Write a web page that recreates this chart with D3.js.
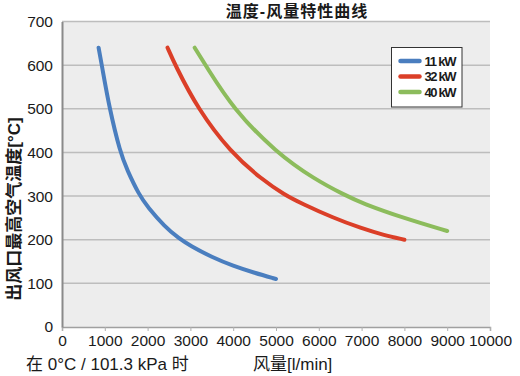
<!DOCTYPE html>
<html>
<head>
<meta charset="utf-8">
<script src="https://cdn.jsdelivr.net/npm/d3@7/dist/d3.min.js"></script>
<style>
  body { margin: 0; background: #fff; }
  text { font-family: "Liberation Sans", Arial, "Noto Sans CJK SC", sans-serif; fill: #1a1a1a; }
  .cjk { font-family: "Liberation Sans", "Noto Sans CJK SC", sans-serif; }
</style>
</head>
<body>
<div id="chart"></div>
<script>
//////////////////////////////// Data ////////////////////////////////
var seriesNames = ["11 kW", "32 kW", "40 kW"]
var seriesColors = ["#4a7ebf", "#db3f28", "#8cbc5c"]

// [airflow l/min, temperature °C]
var flow11 = [855, 930, 1110, 1360, 1520, 1800, 2000, 2400, 2730, 3000, 3500, 4000, 4500, 5000]
var temp11 = [640, 600, 500, 400, 360, 303, 275, 230, 203, 186, 160, 140, 124, 110]
var flow32 = [2466, 2645, 3170, 3940, 4670, 5200, 5600, 6340, 7000, 7500, 8000]
var temp32 = [640, 600, 500, 400, 338, 303, 283, 250, 226, 211, 200]
var flow40 = [3100, 3385, 4000, 5000, 5910, 6615, 7000, 8000, 9000]
var temp40 = [640, 595, 500, 400, 338, 302, 284, 249, 220]

var xTicks = [0, 1000, 2000, 3000, 4000, 5000, 6000, 7000, 8000, 9000, 10000]
var yTicks = [0, 100, 200, 300, 400, 500, 600, 700]

var titleText = "温度-风量特性曲线"
var yLabel = "出风口最高空气温度[°C]"
var xLabel = "风量[l/min]"
var noteText = "在 0°C / 101.3 kPa 时"

//////////////////////////////// Setup ////////////////////////////////
var totalWidth = 520, totalHeight = 376
var margin = { top: 21.5, right: 30, bottom: 49, left: 62 }
var width = 490 - margin.left
var height = 327 - margin.top

var svg = d3.select("#chart").append("svg")
  .attr("width", totalWidth)
  .attr("height", totalHeight)

var g = svg.append("g")
  .attr("transform", "translate(" + margin.left + "," + margin.top + ")")

var x = d3.scaleLinear().domain([0, 10000]).range([0, width])
var y = d3.scaleLinear().domain([0, 700]).range([height, 0])

// plot background
g.append("rect")
  .attr("width", width)
  .attr("height", height)
  .attr("fill", "#ededed")

// gridlines
g.selectAll(".grid").data(yTicks.filter(d => d > 0))
  .enter().append("line")
    .attr("class", "grid")
    .attr("x1", 0).attr("x2", width)
    .attr("y1", d => y(d)).attr("y2", d => y(d))
    .attr("stroke", "#bdbdbd")
    .attr("stroke-width", 1.5)

// axes
var xAxis = g.append("g")
  .attr("transform", "translate(0," + height + ")")
  .call(d3.axisBottom(x).tickValues(xTicks).tickSize(4).tickPadding(4).tickFormat(d3.format("d")))
xAxis.select(".domain").attr("stroke", "#a0a0a0").attr("stroke-width", 1.5)
xAxis.selectAll(".tick line").attr("stroke", "#b0b0b0")
xAxis.selectAll(".tick text").attr("font-size", 15.5).attr("fill", "#1a1a1a")
  .attr("font-family", "Liberation Sans, Arial, sans-serif")

var yAxis = g.append("g")
  .call(d3.axisLeft(y).tickValues(yTicks).tickSize(0).tickPadding(9).tickFormat(d3.format("d")))
yAxis.select(".domain").attr("stroke", "#8a8a8a").attr("stroke-width", 2)
yAxis.selectAll(".tick text").attr("font-size", 15.5).attr("fill", "#1a1a1a")
  .attr("font-family", "Liberation Sans, Arial, sans-serif")

// curves
var series = [
  { name: seriesNames[0], color: seriesColors[0], pts: d3.zip(flow11, temp11) },
  { name: seriesNames[1], color: seriesColors[1], pts: d3.zip(flow32, temp32) },
  { name: seriesNames[2], color: seriesColors[2], pts: d3.zip(flow40, temp40) }
]

var line = d3.line()
  .x(d => x(d[0]))
  .y(d => y(d[1]))
  .curve(d3.curveBasis)

g.selectAll(".curve").data(series)
  .enter().append("path")
    .attr("class", "curve")
    .attr("d", d => line(d.pts))
    .attr("fill", "none")
    .attr("stroke", d => d.color)
    .attr("stroke-width", 4)
    .attr("stroke-linecap", "round")

// legend
var legend = svg.append("g").attr("transform", "translate(391.5,47.5)")
legend.append("rect")
  .attr("width", 70.5).attr("height", 59.5)
  .attr("fill", "#fff")
  .attr("stroke", "#333").attr("stroke-width", 1)

var item = legend.selectAll(".item").data(series)
  .enter().append("g")
    .attr("transform", (d, i) => "translate(0," + (13.5 + i * 15.5) + ")")
item.append("line")
  .attr("x1", 9).attr("x2", 28)
  .attr("stroke", d => d.color)
  .attr("stroke-width", 4.5)
  .attr("stroke-linecap", "round")
item.append("text")
  .attr("x", 33).attr("dy", "0.36em")
  .attr("font-size", 13)
  .attr("font-weight", "bold")
  .attr("textLength", 32)
  .text(d => d.name)

// title and labels
svg.append("text")
  .attr("class", "cjk")
  .attr("x", 297).attr("y", 17)
  .attr("text-anchor", "middle")
  .attr("font-size", 16)
  .attr("font-weight", "bold")
  .attr("letter-spacing", 1)
  .text(titleText)

svg.append("text")
  .attr("class", "cjk")
  .attr("transform", "translate(20,209) rotate(-90)")
  .attr("text-anchor", "middle")
  .attr("font-size", 17)
  .attr("font-weight", "bold")
  .text(yLabel)

svg.append("text")
  .attr("class", "cjk")
  .attr("x", 253).attr("y", 370)
  .attr("font-size", 17)
  .text(xLabel)

svg.append("text")
  .attr("class", "cjk")
  .attr("x", 26).attr("y", 370)
  .attr("font-size", 17)
  .text(noteText)
</script>
</body>
</html>
